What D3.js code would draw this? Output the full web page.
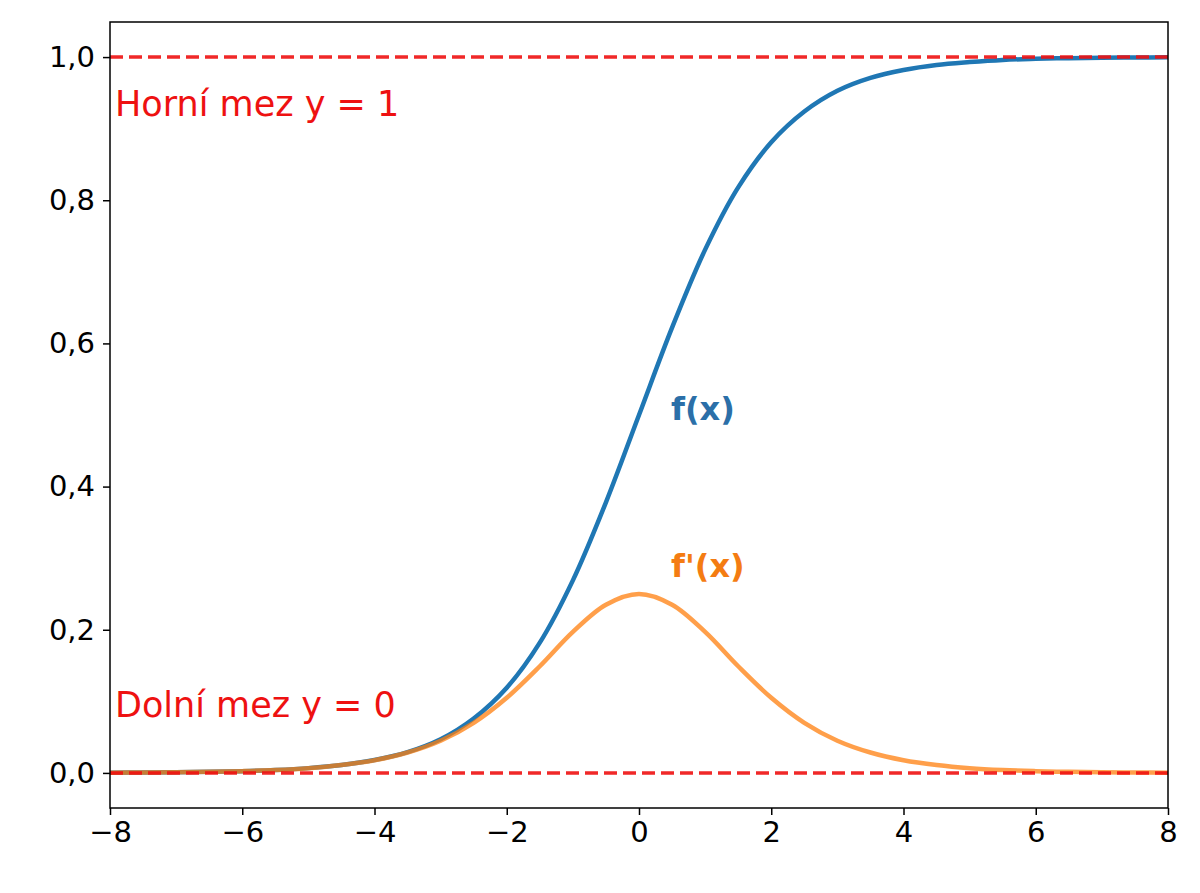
<!DOCTYPE html>
<html><head><meta charset="utf-8">
<script src="https://cdn.jsdelivr.net/npm/d3@7/dist/d3.min.js"></script>
<style>body{margin:0;background:#fff}svg{font-family:"DejaVu Sans",sans-serif}</style>
</head><body><svg id="c" width="1200" height="893"></svg>
<script>
const xs = [-8,-7.5,-7,-6.5,-6,-5.5,-5,-4.5,-4,-3.5,-3,-2.5,-2,-1.5,-1,-0.5,0,0.5,1,1.5,2,2.5,3,3.5,4,4.5,5,5.5,6,6.5,7,7.5,8];
const fVals = [0.0003,0.0006,0.0009,0.0015,0.0025,0.0041,0.0067,0.011,0.018,0.029,0.047,0.076,0.119,0.182,0.269,0.378,0.5,0.622,0.731,0.818,0.881,0.924,0.953,0.971,0.982,0.989,0.993,0.996,0.9975,0.9985,0.9991,0.9994,0.9997];
const dVals = [0.0003,0.0006,0.0009,0.0015,0.0025,0.004,0.0066,0.011,0.0177,0.0285,0.045,0.070,0.105,0.149,0.197,0.235,0.25,0.235,0.197,0.149,0.105,0.070,0.045,0.0285,0.0177,0.011,0.0066,0.004,0.0025,0.0015,0.0009,0.0006,0.0003];
const xTicks = [-8,-6,-4,-2,0,2,4,6,8];
const yTicks = [0,0.2,0.4,0.6,0.8,1.0];
const svg = d3.select("#c");
const L=110,R=1168,T=22,B=808;
const x = d3.scaleLinear().domain([-8,8]).range([L,R]);
const y = d3.scaleLinear().domain([-0.049,1.049]).range([B,T]);
const fmtY = d => d.toFixed(1).replace(".",",");
const fmtX = d => String(d).replace("-","\u2212");
const ax = svg.append("g").attr("transform",`translate(0,${B})`).call(d3.axisBottom(x).tickValues(xTicks).tickFormat(fmtX).tickSize(7).tickPadding(6));
const ay = svg.append("g").attr("transform",`translate(${L},0)`).call(d3.axisLeft(y).tickValues(yTicks).tickFormat(fmtY).tickSize(7).tickPadding(8));
[ax,ay].forEach(a=>{a.attr("font-size",null).attr("font-family",null);a.selectAll("text").style("font-size","29px").attr("fill","#000");a.select(".domain").remove();a.selectAll("line").attr("stroke","#000").attr("stroke-width",1.5);});
const line = d3.line().curve(d3.curveCatmullRom);
svg.append("path").attr("d",line(xs.map((v,i)=>[x(v),y(fVals[i])]))).attr("fill","none").attr("stroke","#1f77b4").attr("stroke-width",4.5);
svg.append("path").attr("d",line(xs.map((v,i)=>[x(v),y(dVals[i])]))).attr("fill","none").attr("stroke","#ff7f0e").attr("stroke-opacity",0.75).attr("stroke-width",4.5);
[0,1].forEach(v=>svg.append("line").attr("x1",L).attr("x2",R).attr("y1",y(v)).attr("y2",y(v)).attr("stroke","#ee1111").attr("stroke-opacity",0.9).attr("stroke-width",3.5).attr("stroke-dasharray","13,6"));
svg.append("rect").attr("x",L).attr("y",T).attr("width",R-L).attr("height",B-T).attr("fill","none").attr("stroke","#000").attr("stroke-width",1.5);
svg.append("text").attr("x",115).attr("y",116).style("font-size","35px").attr("fill","#ee1111").text("Horní mez y = 1");
svg.append("text").attr("x",115).attr("y",717).style("font-size","35px").attr("fill","#ee1111").text("Dolní mez y = 0");
svg.append("text").attr("x",x(0.5)-1).attr("y",y(0.51)+12).style("font-size","32px").attr("font-weight","bold").attr("fill","#2b6fa8").text("f(x)");
svg.append("text").attr("x",x(0.5)-1).attr("y",y(0.29)+12).style("font-size","32px").attr("font-weight","bold").attr("fill","#f47c12").text("f'(x)");
</script></body></html>
